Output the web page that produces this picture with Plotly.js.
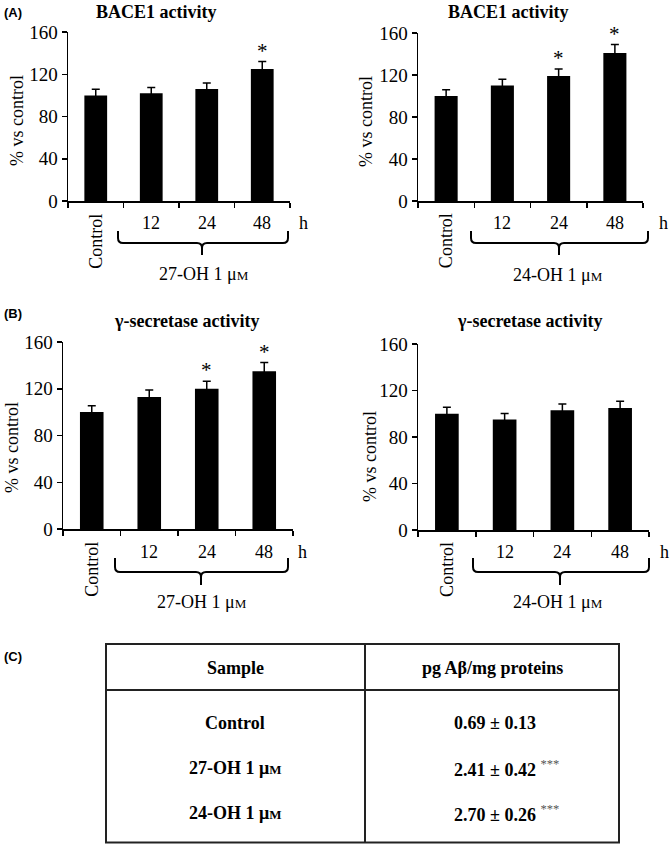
<!DOCTYPE html>
<html><head><meta charset="utf-8">
<script src="https://cdn.plot.ly/plotly-3.0.1.min.js"></script>
<style>html,body{margin:0;padding:0;background:#fff}</style>
</head><body><div id="chart" style="width:672px;height:844px"></div>
<script>
// ---------- data ----------
const categories = ['Control', '12', '24', '48'];
const yTicks = [0, 40, 80, 120, 160];

const bace27 = [100, 102, 106, 125];
const bace27Err = [5.8, 5.5, 5.7, 7];
const bace27Sig = [false, false, false, true];

const bace24 = [100, 110, 119, 141];
const bace24Err = [6, 6, 6.6, 8];
const bace24Sig = [false, false, true, true];

const gamma27 = [100, 113, 120, 135];
const gamma27Err = [5.4, 6, 6.5, 7.4];
const gamma27Sig = [false, false, true, true];

const gamma24 = [100, 95, 103, 105];
const gamma24Err = [5.5, 5.2, 5.4, 5.7];
const gamma24Sig = [false, false, false, false];

const tableHeader = ['Sample', 'pg Aβ/mg proteins'];
const tableSamples = ['Control', '27-OH 1 μ<span style="font-size:13px">M</span>', '24-OH 1 μ<span style="font-size:13px">M</span>'];
const tableMeans = ['0.69', '2.41', '2.70'];
const tableSDs = ['0.13', '0.42', '0.26'];
const tableSig = ['', '***', '***'];

// ---------- layout helpers ----------
const W = 672, H = 844;
const X = p => p / W;
const Y = p => 1 - p / H;
const SERIF = 'Liberation Serif, Times New Roman, serif';
const SANS = 'Liberation Sans, Arial, sans-serif';
const MU = ' 1 μ<span style="font-size:13px">M</span>';

const panels = [
  {vals: bace27, err: bace27Err, sig: bace27Sig, title: 'BACE1 activity', treat: '27-OH' + MU,
   xd: [68, 290], yd: [32, 201], tX: 156, tY: 12, tickY: 223, ctrlY: 241, hX: 303,
   br: [118, 288, 231, 243, 255, 202], trX: 204, trY: 274, ytX: 17, ytY: 121},
  {vals: bace24, err: bace24Err, sig: bace24Sig, title: 'BACE1 activity', treat: '24-OH' + MU,
   xd: [418, 643], yd: [33, 201], tX: 508, tY: 12, tickY: 223, ctrlY: 241, hX: 663,
   br: [471, 648, 231, 243, 255, 559], trX: 558, trY: 275, ytX: 366, ytY: 121},
  {vals: gamma27, err: gamma27Err, sig: gamma27Sig, title: 'γ-secretase activity', treat: '27-OH' + MU,
   xd: [63, 293], yd: [342, 529], tX: 187, tY: 321, tickY: 552, ctrlY: 569, hX: 302,
   br: [115, 288, 558, 572, 585, 201], trX: 202, trY: 602, ytX: 12, ytY: 448},
  {vals: gamma24, err: gamma24Err, sig: gamma24Sig, title: 'γ-secretase activity', treat: '24-OH' + MU,
   xd: [418, 649], yd: [344, 530], tX: 530, tY: 321, tickY: 552, ctrlY: 569, hX: 664,
   br: [473, 649, 558, 572, 585, 560], trX: 558, trY: 602, ytX: 370, ytY: 457}
];

const traces = [];
const annotations = [];
const shapes = [];
const layout = {
  width: W, height: H, margin: {l: 0, r: 0, t: 0, b: 0},
  paper_bgcolor: '#fff', plot_bgcolor: '#fff', showlegend: false,
  bargap: 0.59, font: {family: SERIF, color: '#000'}
};

panels.forEach((p, k) => {
  const n = k === 0 ? '' : String(k + 1);
  const xa = 'x' + n, ya = 'y' + n;
  traces.push({
    type: 'bar', x: categories, y: p.vals, xaxis: xa, yaxis: ya,
    marker: {color: '#000', line: {width: 0}},
    error_y: {type: 'data', array: p.err, visible: true, color: '#000', thickness: 1.5, width: 4},
    hoverinfo: 'skip'
  });
  layout['xaxis' + n] = {
    domain: [X(p.xd[0]), X(p.xd[1])], anchor: ya, type: 'category',
    categoryorder: 'array', categoryarray: categories,
    range: [-0.5, 3.5], showline: true, linecolor: '#000', linewidth: 1.5,
    ticks: 'outside', tickson: 'boundaries', ticklen: 5, tickwidth: 1.5, tickcolor: '#000',
    showticklabels: false, showgrid: false, zeroline: false
  };
  layout['yaxis' + n] = {
    domain: [Y(p.yd[1]), Y(p.yd[0])], anchor: xa, range: [0, 160],
    tickmode: 'array', tickvals: yTicks, ticktext: yTicks.map(String),
    showline: true, linecolor: '#000', linewidth: 1.5,
    ticks: 'outside', ticklen: 5, tickwidth: 1.5, tickcolor: '#000',
    showgrid: false, zeroline: false,
    tickfont: {family: SERIF, size: 19, color: '#000'}
  };
  // title
  annotations.push({xref: 'paper', yref: 'paper', x: X(p.tX), y: Y(p.tY), text: '<b>' + p.title + '</b>',
    showarrow: false, font: {family: SERIF, size: 18, color: '#000'}, xanchor: 'center', yanchor: 'middle'});
  // y axis title
  annotations.push({xref: 'paper', yref: 'paper', x: X(p.ytX), y: Y(p.ytY), text: '% vs control', textangle: -90,
    showarrow: false, font: {family: SERIF, size: 18, color: '#000'}, xanchor: 'center', yanchor: 'middle'});
  // category tick labels (x given as category index)
  categories.forEach((c, i) => {
    annotations.push({xref: xa, yref: 'paper', x: i, y: Y(i === 0 ? p.ctrlY : p.tickY), text: c,
      textangle: i === 0 ? -90 : 0, showarrow: false, font: {family: SERIF, size: 18, color: '#000'},
      xanchor: 'center', yanchor: 'middle'});
  });
  annotations.push({xref: 'paper', yref: 'paper', x: X(p.hX), y: Y(p.tickY), text: 'h',
    showarrow: false, font: {family: SERIF, size: 18, color: '#000'}, xanchor: 'center', yanchor: 'middle'});
  annotations.push({xref: 'paper', yref: 'paper', x: X(p.trX), y: Y(p.trY), text: p.treat,
    showarrow: false, font: {family: SERIF, size: 18, color: '#000'}, xanchor: 'center', yanchor: 'middle'});
  // significance stars
  p.sig.forEach((s, i) => {
    if (!s) return;
    annotations.push({xref: xa, yref: ya, x: i, y: p.vals[i] + p.err[i], text: '*',
      showarrow: false, font: {family: SERIF, size: 21, color: '#000'}, xanchor: 'center', yanchor: 'bottom', yshift: -3});
  });
  // brace
  const [x0, x1, top, mid, tip, cx] = p.br;
  const r = 5;
  const pt = (a, b) => X(a) + ',' + Y(b);
  const path = 'M' + pt(x0, top) + ' L' + pt(x0, mid - r) + ' Q' + pt(x0, mid) + ' ' + pt(x0 + r, mid) +
    ' L' + pt(cx - r, mid) + ' Q' + pt(cx, mid) + ' ' + pt(cx, mid + r) + ' L' + pt(cx, tip) +
    ' M' + pt(cx, mid + r) + ' Q' + pt(cx, mid) + ' ' + pt(cx + r, mid) +
    ' L' + pt(x1 - r, mid) + ' Q' + pt(x1, mid) + ' ' + pt(x1, mid - r) + ' L' + pt(x1, top);
  shapes.push({type: 'path', xref: 'paper', yref: 'paper', path: path, line: {color: '#000', width: 2}});
});

// panel letters
[['(A)', 12], ['(B)', 313], ['(C)', 656]].forEach(([t, y]) => {
  annotations.push({xref: 'paper', yref: 'paper', x: X(2), y: Y(y), text: '<b>' + t + '</b>', showarrow: false,
    font: {family: SANS, size: 13, color: '#000'}, xanchor: 'left', yanchor: 'middle'});
});

// table (panel C)
const tb = {l: 106, r: 619, t: 644, b: 842.5, mid: 365, hdr: 690};
shapes.push({type: 'rect', xref: 'paper', yref: 'paper', x0: X(tb.l), x1: X(tb.r), y0: Y(tb.b), y1: Y(tb.t),
  line: {color: '#222', width: 2}});
shapes.push({type: 'line', xref: 'paper', yref: 'paper', x0: X(tb.mid), x1: X(tb.mid), y0: Y(tb.b), y1: Y(tb.t),
  line: {color: '#222', width: 2}});
shapes.push({type: 'line', xref: 'paper', yref: 'paper', x0: X(tb.l), x1: X(tb.r), y0: Y(tb.hdr), y1: Y(tb.hdr),
  line: {color: '#222', width: 2}});
const tFont = {family: SERIF, size: 18, color: '#000'};
annotations.push({xref: 'paper', yref: 'paper', x: X(235), y: Y(668), text: '<b>' + tableHeader[0] + '</b>',
  showarrow: false, font: tFont, xanchor: 'center', yanchor: 'middle'});
annotations.push({xref: 'paper', yref: 'paper', x: X(493), y: Y(668), text: '<b>' + tableHeader[1] + '</b>',
  showarrow: false, font: tFont, xanchor: 'center', yanchor: 'middle'});
const rowY = [723, 768, 813];
tableSamples.forEach((s, i) => {
  annotations.push({xref: 'paper', yref: 'paper', x: X(235), y: Y(rowY[i]), text: '<b>' + s + '</b>',
    showarrow: false, font: tFont, xanchor: 'center', yanchor: 'middle'});
  const sig = tableSig[i] ? ' <sup><span style="color:#555">' + tableSig[i] + '</span></sup>' : '';
  annotations.push({xref: 'paper', yref: 'paper', x: X(452), y: Y(rowY[i]),
    text: '<b>' + tableMeans[i] + ' ± ' + tableSDs[i] + '</b>' + sig,
    showarrow: false, font: tFont, xanchor: 'left', yanchor: 'middle'});
});

layout.annotations = annotations;
layout.shapes = shapes;
Plotly.newPlot('chart', traces, layout, {displayModeBar: false, staticPlot: true});
</script></body></html>
